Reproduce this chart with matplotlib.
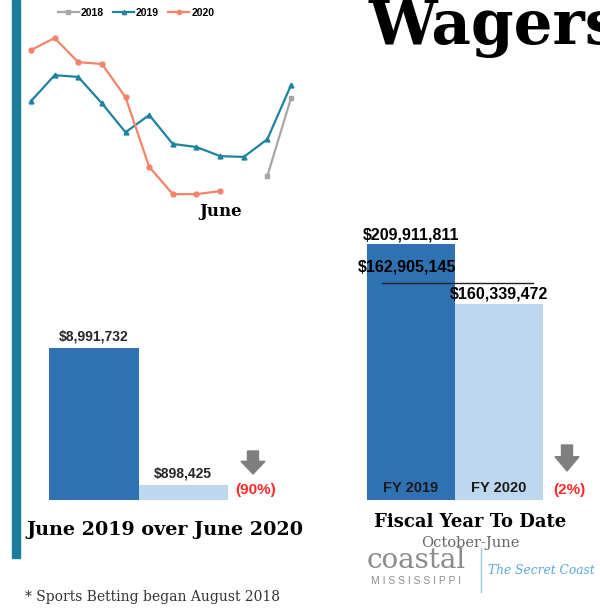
import numpy as np
import matplotlib.pyplot as plt
from matplotlib.lines import Line2D
from matplotlib.patches import Polygon, Rectangle

# monthly wagers in $M (Oct..Sep)
pos_2019 = list(range(12))
wagers_2019 = [21.7, 27.7, 27.3, 21.2, 14.5, 18.5, 11.8, 11.1, 8.99, 8.8, 12.9, 25.4]
pos_2020 = list(range(9))
wagers_2020 = [33.5, 36.3, 30.7, 30.3, 22.6, 6.5, 0.2, 0.2, 0.9]
pos_2018 = [10, 11]
wagers_2018 = [4.4, 22.4]

# June comparison
june_labels = ["June 2019", "June 2020"]
june_values = [8991732, 898425]
june_change = "(90%)"

# fiscal year to date
fy_labels = ["FY 2019", "FY 2020"]
fy_values = [209911811, 160339472]
fy_prior = 162905145
fy_change = "(2%)"

W, H = 600, 610
fig = plt.figure(figsize=(6, 6.1), dpi=100)


def box(x0, y0, x1, y1):
    # pixel box (top-left origin) -> figure fraction rect
    return [x0 / W, 1 - y1 / H, (x1 - x0) / W, (y1 - y0) / H]


def fx(x):
    return x / W


def fy(y):
    return 1 - y / H


serif = "DejaVu Serif"
sans = "Liberation Sans"
dark_blue = "#2e72b4"
light_blue = "#bdd7ee"
teal = "#1e82a3"
salmon = "#f4836a"
gray = "#a6a6a6"

# left teal stripe
fig.patches.append(Rectangle((fx(12), fy(558)), fx(8), 558 / H, transform=fig.transFigure,
                             color="#1b7c9c", zorder=0))

# ---- line chart ----
ax = fig.add_axes(box(31, 30, 291, 195))
ax.plot(pos_2018, wagers_2018, color=gray, lw=1.6, marker="s", ms=3.5, clip_on=False)
ax.plot(pos_2019, wagers_2019, color=teal, lw=1.6, marker="^", ms=3.5, clip_on=False)
ax.plot(pos_2020, wagers_2020, color=salmon, lw=1.6, marker="o", ms=3.5, clip_on=False)
ax.set_xlim(0, 11)
ax.set_ylim(0, 165 * 0.2312)
ax.axis("off")

handles = [Line2D([], [], color=gray, lw=1.6, marker="s", ms=3),
           Line2D([], [], color=teal, lw=1.6, marker="^", ms=3),
           Line2D([], [], color=salmon, lw=1.6, marker="o", ms=3)]
fig.legend(handles, ["2018", "2019", "2020"], loc="center", bbox_to_anchor=(fx(136), fy(13)),
           ncol=3, frameon=False, handlelength=2.0, columnspacing=0.9, handletextpad=0.2,
           prop={"family": sans, "weight": "bold", "size": 7.5})
fig.text(fx(221), fy(212), "June", family=serif, weight="bold", size=12, ha="center", va="center")

fig.text(fx(368), fy(28), "Wagers", family=serif, weight="bold", size=44, ha="left", va="center")

# ---- June bars ----
ax2 = fig.add_axes(box(49, 340, 228, 500))
ax2.bar([0, 1], june_values, width=1, align="edge", color=[dark_blue, light_blue])
ax2.set_xlim(0, 2)
ax2.set_ylim(0, june_values[0] * 160 / 152)
ax2.axis("off")
for i, v in enumerate(june_values):
    ax2.text(i + 0.5, v + june_values[0] * 0.03, f"${v:,}", ha="center", va="bottom",
             family=sans, weight="bold", size=10, color="#262626", clip_on=False)


def arrow(cx, top, length):
    pts = [(cx - 5.5, top), (cx + 5.5, top), (cx + 5.5, top + length * 0.45),
           (cx + 12, top + length * 0.45), (cx, top + length), (cx - 12, top + length * 0.45),
           (cx - 5.5, top + length * 0.45)]
    fig.patches.append(Polygon([(fx(x), fy(y)) for x, y in pts], closed=True,
                               transform=fig.transFigure, color="#7f7f7f"))


arrow(253, 451, 23)
fig.text(fx(256), fy(490), june_change, color="#ff2a2a", family=sans, weight="bold", size=11,
         ha="center", va="center")
fig.text(fx(165), fy(530), "June 2019 over June 2020", family=serif, weight="bold", size=13.8,
         ha="center", va="center")

# ---- fiscal year bars ----
ax3 = fig.add_axes(box(367, 244, 543, 500))
ax3.bar([0, 1], fy_values, width=1, align="edge", color=[dark_blue, light_blue])
ax3.set_xlim(0, 2)
ax3.set_ylim(0, fy_values[0])
ax3.axis("off")
for i, lab in enumerate(fy_labels):
    ax3.text(i + 0.5, fy_values[0] * 0.047, lab, ha="center", va="center", family=sans,
             weight="bold", size=10.5, color="#1a1a1a")
ax3.text(0.5, fy_values[0] * 1.035, f"${fy_values[0]:,}", ha="center", va="center", family=sans,
         weight="bold", size=11.5, clip_on=False)
ax3.text(1.5, fy_values[1] * 1.055, f"${fy_values[1]:,}", ha="center", va="center", family=sans,
         weight="bold", size=11.5, clip_on=False)
line_y = fy_values[0] * 217 / 256
ax3.plot([0.17, 1.89], [line_y, line_y], color="#222222", lw=1, clip_on=False)
ax3.text(0.45, line_y + fy_values[0] * 0.035, f"${fy_prior:,}", ha="center", va="bottom",
         family=sans, weight="bold", size=11.5, clip_on=False)

arrow(567, 445, 26)
fig.text(fx(569), fy(490), fy_change, color="#ff2a2a", family=sans, weight="bold", size=11,
         ha="center", va="center")
fig.text(fx(470), fy(522), "Fiscal Year To Date", family=serif, weight="bold", size=13,
         ha="center", va="center")
fig.text(fx(470), fy(543), "October-June", family=serif, size=10.5, color="#666666",
         ha="center", va="center")

# logo
fig.text(fx(416), fy(560), "coastal", family=serif, size=20, color="#8c8c8c", ha="center", va="center")
fig.text(fx(416), fy(581), "M I S S I S S I P P I", family=sans, size=7.5, color="#8c8c8c",
         ha="center", va="center")
fig.lines.append(Line2D([fx(481), fx(481)], [fy(548), fy(592)], transform=fig.transFigure,
                        color="#9ec9e2", lw=1))
fig.text(fx(541), fy(570), "The Secret Coast", family=serif, style="italic", size=8.8,
         color="#5aa9d6", ha="center", va="center")

fig.text(fx(25), fy(597), "* Sports Betting began August 2018", family=serif, size=10,
         color="#333333", ha="left", va="center")

fig.savefig("out.png", dpi=100)
